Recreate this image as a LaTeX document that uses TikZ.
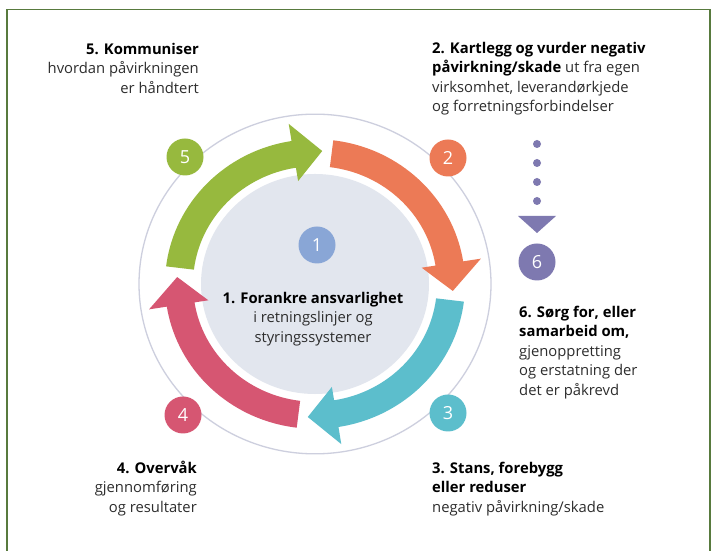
\documentclass[tikz,border=0pt]{standalone}
\usepackage{fontspec}
\setmainfont{Open Sans}
\definecolor{bordergreen}{RGB}{88,122,62}
\definecolor{diskgray}{RGB}{226,230,238}
\definecolor{ringline}{RGB}{205,207,222}
\definecolor{cgreen}{RGB}{151,185,62}
\definecolor{corange}{RGB}{236,122,86}
\definecolor{cteal}{RGB}{92,190,204}
\definecolor{cpink}{RGB}{214,86,114}
\definecolor{cblue}{RGB}{137,166,214}
\definecolor{cpurple}{RGB}{126,121,176}
\definecolor{txtgray}{RGB}{45,45,45}
\newcommand\ringarrow[4]{%
  \fill[#1] (#2:122) arc[start angle=#2, end angle=#3, radius=122]
    -- (#3:108) -- (#4:138) -- (#3:168) -- (#3:150)
    arc[start angle=#3, end angle=#2, radius=150] -- cycle;}
\tikzset{
  numcirc/.style={circle, fill=#1, text=white, minimum size=37pt, inner sep=0pt,
    font=\fontsize{18}{18}\selectfont},
  txt/.style={inner sep=0pt, text=txtgray, font=\fontsize{14.8}{19.5}\selectfont},
}
\begin{document}
\begin{tikzpicture}[x=1pt,y=1pt]
\useasboundingbox (0,0) rectangle (715,551);
\fill[white] (0,0) rectangle (715,551);
\draw[bordergreen, line width=1.6] (7,-10) -- (7,541.5) -- (710,541.5) -- (710,-10);

\begin{scope}[shift={(315,267)}, yscale=0.965]
  \fill[diskgray] (0,0) circle[radius=114];
  \draw[ringline, line width=1.3] (0,0) circle[radius=176];
  \ringarrow{cgreen}{173}{99}{87}
  \ringarrow{corange}{83}{9}{-3}
  \ringarrow{cteal}{-7}{-81}{-93}
  \ringarrow{cpink}{-97}{-171}{-183}
\end{scope}

\node[numcirc=cgreen] (n5) at (185,394) {5};
\node[numcirc=corange] (n2) at (448,393) {2};
\node[numcirc=cteal] (n3) at (448,138) {3};
\node[numcirc=cpink] (n4) at (183,136) {4};
\node[numcirc=cblue] (n1) at (317,306) {1};
\node[numcirc=cpurple] (n6) at (537,289) {6};

% dotted arrow to 6
\coordinate (d0) at (537,407);
\coordinate (d1) at (537,350);
\draw[cpurple, line width=8, line cap=round, dash pattern=on 0pt off 19pt] (d0) -- (d1);
\fill[cpurple] (518,335) -- (556,335) -- (537,318) -- cycle;

% texts
\node[txt, anchor=north east, align=right] (t5) at (199,508)
  {\textbf{\color{black}5. Kommuniser}\\hvordan påvirkningen\\er håndtert};
\node[txt, anchor=north west, align=left] (t2) at (432,509)
  {\textbf{\color{black}2. Kartlegg og vurder negativ}\\\textbf{\color{black}påvirkning/skade} ut fra egen\\virksomhet, leverandørkjede\\og forretningsforbindelser};
\node[txt, anchor=north, align=center] (t1) at (313,259)
  {\textbf{\color{black}1. Forankre ansvarlighet}\\i retningslinjer og\\styringssystemer};
\node[txt, anchor=north west, align=left] (t6) at (519,245.5)
  {\textbf{\color{black}6. Sørg for, eller}\\\textbf{\color{black}samarbeid om,}\\gjenoppretting\\og erstatning der\\det er påkrevd};
\node[txt, anchor=north east, align=right] (t4) at (197,90.5)
  {\textbf{\color{black}4. Overvåk}\\gjennomføring\\og resultater};
\node[txt, anchor=north west, align=left] (t3) at (432,89.5)
  {\textbf{\color{black}3. Stans, forebygg}\\\textbf{\color{black}eller reduser}\\negativ påvirkning/skade};
\end{tikzpicture}
\end{document}
